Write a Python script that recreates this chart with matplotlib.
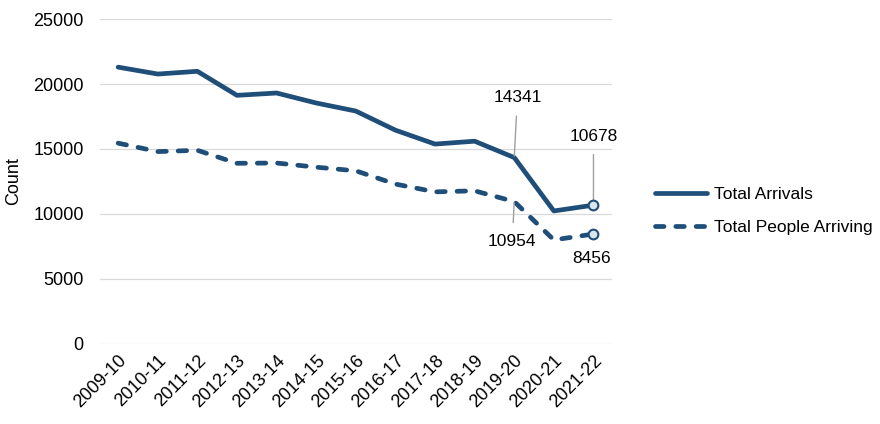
import numpy as np
import matplotlib
matplotlib.use("Agg")
import matplotlib.pyplot as plt

plt.rcParams["font.family"] = ["Liberation Sans", "DejaVu Sans"]

years = ["2009-10", "2010-11", "2011-12", "2012-13", "2013-14", "2014-15", "2015-16",
         "2016-17", "2017-18", "2018-19", "2019-20", "2020-21", "2021-22"]
total_arrivals = [21300, 20770, 20980, 19130, 19310, 18540, 17920,
                  16450, 15380, 15600, 14341, 10230, 10678]
total_people = [15450, 14800, 14900, 13900, 13920, 13600, 13320,
                12300, 11700, 11780, 10954, 8000, 8456]

DARK = "#1f4e79"
FS = 12.5

fig = plt.figure(figsize=(8.8, 4.24), dpi=100)
ax = fig.add_axes([0.114, 0.189, 0.582, 0.766])

x = np.arange(len(years))
ax.plot(x, total_arrivals, color=DARK, lw=3.4, solid_capstyle="round",
        solid_joinstyle="round", label="Total Arrivals")
ax.plot(x, total_people, color=DARK, lw=3.4, linestyle=(0, (1.8, 2.5)),
        dash_capstyle="round", label="Total People Arriving")

# end markers
ax.plot(x[-1], total_arrivals[-1], "o", ms=7, mfc="#dce6f1", mec=DARK, mew=1.5, zorder=5)
ax.plot(x[-1], total_people[-1], "o", ms=7, mfc="#dce6f1", mec=DARK, mew=1.5, zorder=5)

ax.set_xlim(-0.45, len(years) - 1 + 0.48)
ax.set_ylim(0, 25000)
ax.set_yticks(np.arange(0, 25001, 5000))
ax.set_xticks(x)
ax.set_xticklabels(years, rotation=45, ha="right", rotation_mode="anchor")
ax.tick_params(axis="both", length=0, labelsize=13, colors="black")
ax.tick_params(axis="y", pad=12)
ax.tick_params(axis="x", pad=6)
ax.grid(axis="y", color="#d9d9d9", lw=0.9)
ax.set_axisbelow(True)
for s in ax.spines.values():
    s.set_visible(False)
ax.set_ylabel("Count", fontsize=13, labelpad=8)

ann = dict(fontsize=FS, ha="center", va="center",
           arrowprops=dict(arrowstyle="-", color="#a0a0a0", lw=1.0, shrinkA=6, shrinkB=1))
ax.annotate(f"{total_arrivals[10]}", xy=(x[10], total_arrivals[10]),
            xytext=(x[10] + 0.08, 18960), **ann)
ax.annotate(f"{total_arrivals[12]}", xy=(x[12], total_arrivals[12]),
            xytext=(x[12], 16000), **ann)
ax.annotate(f"{total_people[10]}", xy=(x[10], total_people[10]),
            xytext=(x[10] - 0.05, 7900), **ann)
ax.text(x[12] - 0.05, 6540, f"{total_people[12]}", fontsize=FS, ha="center", va="center")

fig.legend(loc="center left", bbox_to_anchor=(0.727, 0.502), frameon=False,
           fontsize=FS, handlelength=3.0, labelspacing=1.0, handletextpad=0.35)

fig.savefig("out.png", dpi=100)
